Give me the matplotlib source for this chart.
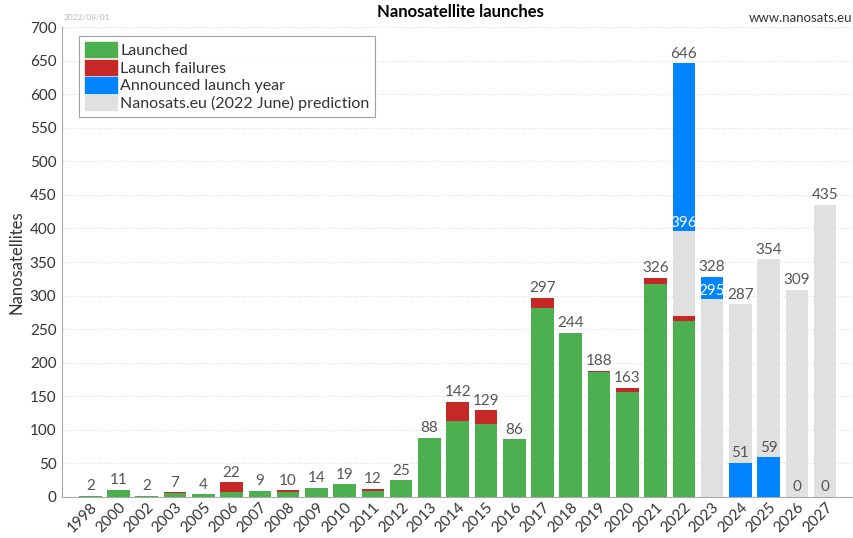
import numpy as np
import matplotlib.pyplot as plt
from matplotlib.patches import Patch

years = ['1998', '2000', '2002', '2003', '2005', '2006', '2007', '2008', '2009', '2010',
         '2011', '2012', '2013', '2014', '2015', '2016', '2017', '2018', '2019', '2020',
         '2021', '2022', '2023', '2024', '2025', '2026', '2027']
launched = [2, 11, 2, 6, 4, 7, 9, 8, 14, 19,
            9, 25, 88, 113, 109, 86, 282, 244, 186, 157,
            317, 262, 0, 0, 0, 0, 0]
failures = [0, 0, 0, 1, 0, 15, 0, 2, 0, 0,
            3, 0, 0, 29, 20, 0, 15, 0, 2, 6,
            9, 7, 0, 0, 0, 0, 0]
announced = [0] * 21 + [646, 328, 51, 59, 0, 0]
prediction = [0] * 21 + [396, 295, 287, 354, 309, 435]

GREEN = '#4caf50'
RED = '#c62828'
BLUE = '#0084ff'
GREY = '#e0e0e0'
TXT = '#555555'

plt.rcParams['font.family'] = ['Lato', 'DejaVu Sans']

x = np.arange(len(years))
launched = np.array(launched)
failures = np.array(failures)
announced = np.array(announced)
prediction = np.array(prediction)
w = 0.8

fig = plt.figure(figsize=(8.54, 5.38), dpi=100)
ax = fig.add_axes([62 / 854, 41 / 538, 790 / 854, 470 / 538])

# prediction in the background, announced either on top or in front
ax.bar(x, prediction, w, color=GREY, linewidth=0, zorder=2)
above = announced > prediction
blue_bottom = np.where(above, prediction, 0)
blue_height = np.where(above, announced - prediction, announced)
ax.bar(x, blue_height, w, bottom=blue_bottom, color=BLUE, linewidth=0, zorder=3)
ax.bar(x, launched, w, color=GREEN, linewidth=0, zorder=4)
ax.bar(x, failures, w, bottom=launched, color=RED, linewidth=0, zorder=4)

# value labels
for i in range(len(years)):
    if i < 21:
        total = launched[i] + failures[i]
        ax.text(x[i], total + 4, str(total), ha='center', va='bottom',
                fontsize=11, color=TXT, zorder=6)
    elif above[i]:
        ax.text(x[i], announced[i] + 4, str(announced[i]), ha='center', va='bottom',
                fontsize=11, color=TXT, zorder=6)
        ax.text(x[i], prediction[i] + 2, str(prediction[i]), ha='center', va='bottom',
                fontsize=11, color='white', zorder=6)
    else:
        ax.text(x[i], prediction[i] + 4, str(prediction[i]), ha='center', va='bottom',
                fontsize=11, color=TXT, zorder=6)
        ax.text(x[i], announced[i] + 4, str(announced[i]), ha='center', va='bottom',
                fontsize=11, color=TXT, zorder=6)

ax.set_xlim(-1.0, len(years) - 0.05)
ax.set_ylim(0, 700)
ax.set_yticks(np.arange(0, 701, 50))
ax.set_xticks(x)
ax.set_xticklabels(years, rotation=45, ha='right', rotation_mode='anchor')
ax.tick_params(axis='both', labelsize=11, colors='#333333', length=0, pad=4)
ax.tick_params(axis='x', pad=2)
ax.yaxis.grid(True, linestyle=':', color='#dddddd', linewidth=0.8, zorder=0)
ax.set_axisbelow(True)
for s in ['top', 'right']:
    ax.spines[s].set_visible(False)
for s in ['left', 'bottom']:
    ax.spines[s].set_color('#aaaaaa')
ax.set_ylabel('Nanosatellites', fontsize=12, color='#333333', labelpad=4)

handles = [Patch(color=GREEN, label='Launched'),
           Patch(color=RED, label='Launch failures'),
           Patch(color=BLUE, label='Announced launch year'),
           Patch(color=GREY, label='Nanosats.eu (2022 June) prediction')]
leg = ax.legend(handles=handles, loc='upper left', bbox_to_anchor=(0.022, 0.98),
                fontsize=11.5, frameon=True, fancybox=False, edgecolor='#888888',
                handlelength=2.0, handleheight=1.1, handletextpad=0.2,
                labelspacing=0.1, borderpad=0.35, borderaxespad=0)
leg.get_frame().set_linewidth(0.8)
for t in leg.get_texts():
    t.set_color('#333333')

fig.text(460 / 854, 1 - 12 / 538, 'Nanosatellite launches', ha='center', va='center',
         fontsize=12, fontweight='bold', color='black')
fig.text(64 / 854, 1 - 18 / 538, '2022/08/01', ha='left', va='center',
         fontsize=6, color='#bbbbbb')
fig.text(852 / 854, 1 - 18 / 538, 'www.nanosats.eu', ha='right', va='center',
         fontsize=9.5, color='#333333')

fig.savefig('out.png', dpi=100)
